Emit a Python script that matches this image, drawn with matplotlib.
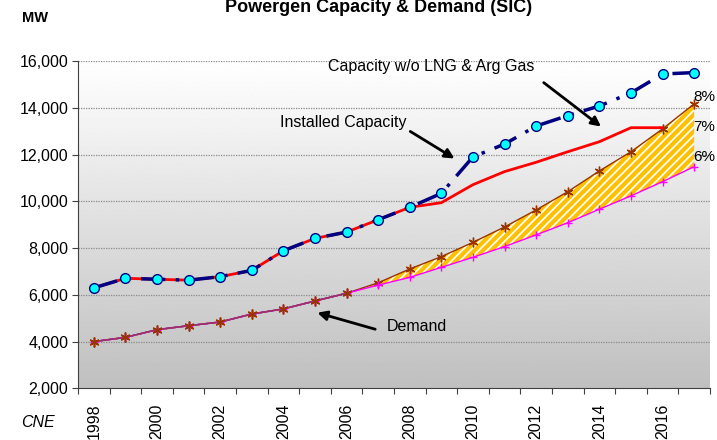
import numpy as np
import matplotlib
matplotlib.use("Agg")
import matplotlib.pyplot as plt

plt.rcParams['font.family'] = ['Liberation Sans', 'DejaVu Sans']
plt.rcParams['hatch.linewidth'] = 3

# Data (MW)
years = list(range(1998, 2018))
capacity_wo_lng = [6300, 6710, 6670, 6630, 6780, 7050, 7890, 8420, 8690, 9220,
                   9750, 10350, 11910, 12460, 13230, 13680, 14090, 14650, 15460, 15520]
installed = [6300, 6710, 6670, 6630, 6780, 7050, 7890, 8420, 8690, 9220,
             9750, 9950, 10720, 11280, 11680, 12130, 12560, 13160, 13160]
demand_hist = [4000, 4180, 4510, 4680, 4840, 5180, 5400, 5740, 6070]
demand_8 = [6520, 7110, 7640, 8250, 8910, 9640, 10420, 11310, 12130, 13110, 14180]
demand_7 = [6470, 6930, 7400, 7920, 8480, 9080, 9720, 10440, 11130, 11930, 12780]
demand_6 = [6420, 6750, 7180, 7610, 8070, 8570, 9090, 9670, 10240, 10850, 11490]
growth_labels = ["8%", "7%", "6%"]

fig = plt.figure(figsize=(7.17, 4.40), dpi=100)
ax = fig.add_axes([0.1088, 0.1175, 0.8814, 0.743])

x = np.arange(len(years))
n_hist = len(demand_hist)
d8 = demand_hist + demand_8
d7 = demand_hist + demand_7
d6 = demand_hist + demand_6

# gradient plot background
grad = np.linspace(1.0, 0.75, 256).reshape(-1, 1)
ax.imshow(grad, cmap='gray', vmin=0, vmax=1, aspect='auto',
          extent=[0, 1, 0, 1], transform=ax.transAxes, zorder=0)

ax.set_xlim(-0.5, len(years) - 0.5)
ax.set_ylim(2000, 16000)
for yv in range(4000, 16001, 2000):
    ax.axhline(yv, color='#8a8a8a', lw=0.9, ls=(0, (1, 1)), zorder=1)

# demand scenarios
ax.plot(x, d7, color='#0000ff', lw=1, ls='--', zorder=2)
ax.fill_between(x[n_hist - 1:], d6[n_hist - 1:], d8[n_hist - 1:],
                facecolor='white', edgecolor='#ffc000', hatch='////', lw=0, zorder=3)
ax.plot(x, d8, color='#993300', lw=1, marker=(6, 2, 0), ms=7, mew=1, zorder=4)
ax.plot(x, d6, color='#ff00ff', lw=1, marker='+', ms=6, mew=1, zorder=5)
ax.plot(x[:n_hist], demand_hist, color='#993366', lw=1.2, marker=(6, 2, 0),
        ms=7, mec='#993300', mew=1, zorder=6)

# capacity
ax.plot(x[:len(installed)], installed, color='red', lw=2, zorder=7)
ax.plot(x, capacity_wo_lng, color='#000080', lw=2.5, ls=(0, (7, 3, 1, 3)),
        marker='o', ms=7, mfc='#00ffff', mec='#000080', mew=1, zorder=8)

# axes styling
for s in ['top', 'right']:
    ax.spines[s].set_visible(False)
ax.spines['left'].set_color('#404040')
ax.spines['bottom'].set_color('#404040')
ax.set_yticks(range(2000, 16001, 2000))
ax.set_yticklabels([f"{v:,}" for v in range(2000, 16001, 2000)], fontsize=11.5)
ax.tick_params(axis='y', length=4, color='#404040', pad=3)
ax.set_xticks(np.arange(-0.5, len(years), 1.0))
ax.set_xticklabels([])
ax.tick_params(axis='x', which='major', length=4, color='#404040', direction='out')
ax.set_xticks(x[::2], minor=True)
ax.set_xticklabels([str(y) for y in years[::2]], minor=True, rotation=90,
                   fontsize=11.5, va='top')
ax.tick_params(axis='x', which='minor', length=0, pad=11)

# annotations
arrow = dict(arrowstyle='-|>', lw=2, color='black', mutation_scale=14)
ax.text(7.41, 15762, "Capacity w/o LNG & Arg Gas", fontsize=11.5, va='center', zorder=9)
ax.annotate("", xy=(16.12, 13136), xytext=(14.17, 15162), arrowprops=arrow, zorder=9)
ax.text(5.89, 13376, "Installed Capacity", fontsize=11.5, va='center', zorder=9)
ax.annotate("", xy=(11.49, 11778), xytext=(9.94, 13063), arrowprops=arrow, zorder=9)
ax.text(9.26, 4638, "Demand", fontsize=11.5, va='center', zorder=9)
ax.annotate("", xy=(6.99, 5268), xytext=(8.99, 4497), arrowprops=arrow, zorder=9)
for lab, yv in zip(growth_labels, [14489, 13204, 11919]):
    ax.text(18.98, yv, lab, fontsize=11, va='center', clip_on=False, zorder=9)

fig.text(379 / 717, 1 - 8 / 440, "Powergen Capacity & Demand (SIC)",
         fontsize=13, fontweight='bold', ha='center', va='center')
fig.text(22 / 717, 1 - 18 / 440, "MW", fontsize=10.5, fontweight='bold', va='center')
fig.text(21 / 717, 1 - 422 / 440, "CNE", fontsize=11.5, style='italic', va='center')

fig.savefig("out.png", dpi=100)
